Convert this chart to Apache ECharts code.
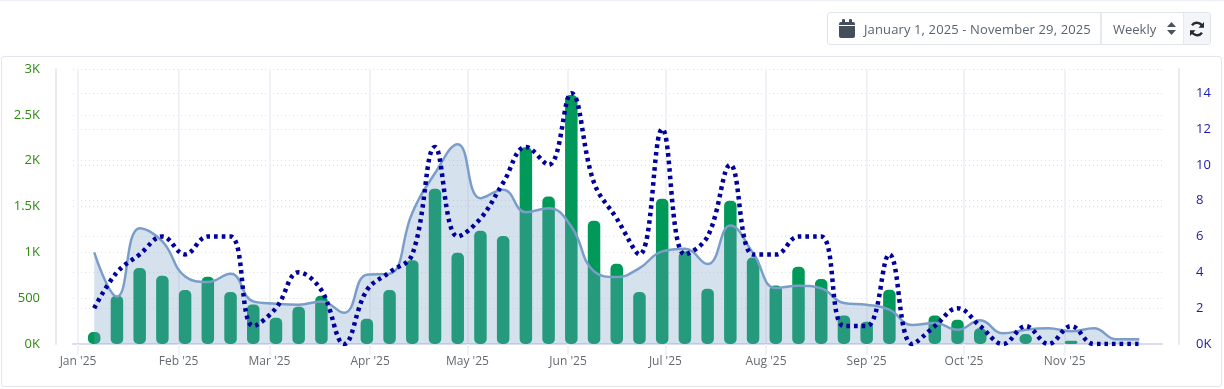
<!DOCTYPE html>
<html><head><meta charset="utf-8">
<style>
html,body{margin:0;padding:0;background:#fff;width:1224px;height:389px;overflow:hidden;font-family:"Open Sans","Noto Sans",sans-serif}
#card{position:absolute;left:1px;top:56px;width:1219px;height:329px;border:1px solid #e3e6ee;border-radius:3px;box-sizing:content-box}
#top{position:absolute;left:0;top:0;width:1224px;height:1px;background:#eceef3}
#chart{position:absolute;left:0;top:0;width:1224px;height:389px}
#ctl{position:absolute;left:827px;top:12px;width:384px;height:33px;border:1px solid #dfe3ea;border-radius:3px;display:flex;box-sizing:border-box;color:#5a6470;font-size:13px;background:#fff}
#ctl div{display:flex;align-items:center;box-sizing:border-box;height:100%}
#d{width:274px;padding-left:11px;border-right:2px solid #e6e9ef}
#d svg{margin-right:9px}
#d span{letter-spacing:.12px}
#w{width:82px;padding-left:11px;border-right:1px solid #e6e9ef}
#w svg{margin-left:11px}
#r{flex:1;background:#f3f5f8;justify-content:center}
</style></head><body>
<div id="top"></div><div id="card"></div>
<div id="chart"></div>
<div id="ctl">
<div id="d"><svg width="16" height="19" viewBox="0 0 16 19"><rect x="0" y="3" width="16" height="16" rx="2" fill="#454f5b"/><rect x="3" y="0" width="3" height="5" rx="1" fill="#454f5b"/><rect x="10" y="0" width="3" height="5" rx="1" fill="#454f5b"/><rect x="0" y="6" width="16" height="1" fill="#fff"/></svg><span>January 1, 2025 - November 29, 2025</span></div>
<div id="w"><span>Weekly</span><svg width="9" height="13" viewBox="0 0 9 13"><path d="M4.5 0L9 5H0Z M4.5 13L0 8H9Z" fill="#4a5460"/></svg></div>
<div id="r"><svg width="16" height="16" viewBox="0 0 16 16"><path d="M13.5 6A6 6 0 0 0 3 4.2M2.5 10A6 6 0 0 0 13 11.8" fill="none" stroke="#222a33" stroke-width="2.4"/><path d="M15 1V6.8H9.4Z M1 15V9.2H6.6Z" fill="#222a33"/></svg></div>
</div>
<script src="https://cdn.jsdelivr.net/npm/echarts@6/dist/echarts.min.js"></script>
<script>
const weekDates = ["2025-01-06","2025-01-13","2025-01-20","2025-01-27","2025-02-03","2025-02-10","2025-02-17","2025-02-24","2025-03-03","2025-03-10","2025-03-17","2025-03-24","2025-03-31","2025-04-07","2025-04-14","2025-04-21","2025-04-28","2025-05-05","2025-05-12","2025-05-19","2025-05-26","2025-06-02","2025-06-09","2025-06-16","2025-06-23","2025-06-30","2025-07-07","2025-07-14","2025-07-21","2025-07-28","2025-08-04","2025-08-11","2025-08-18","2025-08-25","2025-09-01","2025-09-08","2025-09-15","2025-09-22","2025-09-29","2025-10-06","2025-10-13","2025-10-20","2025-10-27","2025-11-03","2025-11-10","2025-11-17","2025-11-24"];
const barValues = [131,527,828,745,588,734,567,432,287,407,527,0,276,588,915,1693,995,1235,1177,2147,1609,2717,1344,875,567,1584,1010,603,1562,944,639,843,708,312,243,592,0,312,265,171,0,109,0,36,0,0,0];
const areaValues = [999,516,1264,1119,737,676,766,465,440,429,465,341,756,766,1430,1863,2180,1591,1682,1438,1482,1282,792,730,828,1010,1039,872,1293,992,610,636,607,447,429,374,207,229,156,258,116,156,171,138,171,51,51];
const dottedValues = [2,4,5,6,5,6,6,1,2,4,3,0,3,4,5,11,6,7,9,11,10,14,9,7,5,12,5,6,10,5,5,6,6,1,1,5,0,1,2,1,0,1,0,1,0,0,0];
const monthStarts = ["2025-01-01","2025-02-01","2025-03-01","2025-04-01","2025-05-01","2025-06-01","2025-07-01","2025-08-01","2025-09-01","2025-10-01","2025-11-01"];
const monthLabels = ["Jan '25","Feb '25","Mar '25","Apr '25","May '25","Jun '25","Jul '25","Aug '25","Sep '25","Oct '25","Nov '25"];

const ts = s => Date.parse(s + "T00:00:00Z");
const pair = arr => weekDates.map((d, i) => [ts(d), arr[i]]);
const monthTs = monthStarts.map(ts);
const dots = {type:[1,3], color:'#dfe1e6', width:1};

const chart = echarts.init(document.getElementById('chart'), null, {renderer:'canvas'});
chart.setOption({
  animation:false,
  textStyle:{fontFamily:'"Open Sans","Noto Sans",sans-serif'},
  grid:{left:73, right:62, top:69, bottom:45, containLabel:false},
  xAxis:{
    type:'value',
    min:ts("2025-01-01")-1.54*864e5,
    max:ts("2025-12-01"),
    axisLine:{lineStyle:{color:'#d9dcf2', width:2}},
    axisTick:{show:true, length:11, customValues:monthTs, lineStyle:{color:'#f1f2f7', width:2}},
    splitLine:{show:true, lineStyle:{color:'#f1f2f7', width:2}},
    axisLabel:{
      customValues:monthTs, margin:12, fontSize:12, color:'#666a70',
      formatter:v => monthLabels[monthTs.indexOf(v)] || ''
    }
  },
  yAxis:[{
    type:'value', min:0, max:3000, interval:500, offset:17, position:'left',
    axisLine:{show:true, lineStyle:{color:'#e9ebef', width:2}},
    axisTick:{show:false},
    splitLine:{show:true, lineStyle:dots},
    axisLabel:{margin:16, fontSize:13, padding:[5,0,0,0], color:'#2f8a12', formatter:v => v===0?'0K':(v<1000?String(v):(v/1000)+'K')}
  },{
    type:'value', min:0, max:15.35, interval:2, offset:17, position:'right',
    axisLine:{show:true, lineStyle:{color:'#e9ebef', width:2}},
    axisTick:{show:false},
    splitLine:{show:true, lineStyle:dots},
    axisLabel:{margin:17, fontSize:13, padding:[5,0,0,0], color:'#1c1ca6', showMaxLabel:false, formatter:v => v===0?'0K':String(v)}
  }],
  series:[{
    type:'bar', yAxisIndex:0, data:pair(barValues), barWidth:12.5, z:2,
    itemStyle:{color:'#00995a', borderRadius:5}
  },{
    type:'line', yAxisIndex:0, data:pair(areaValues), smooth:0.45, showSymbol:false, z:3,
    lineStyle:{color:'#7a9ec8', width:2.5},
    areaStyle:{color:'rgb(122,158,200)', opacity:0.31}
  },{
    type:'line', yAxisIndex:1, data:pair(dottedValues), smooth:0.4, showSymbol:false, z:4,
    lineStyle:{color:'#00009c', width:4.5, type:[3.6,4]}
  }]
});
</script>
</body></html>
